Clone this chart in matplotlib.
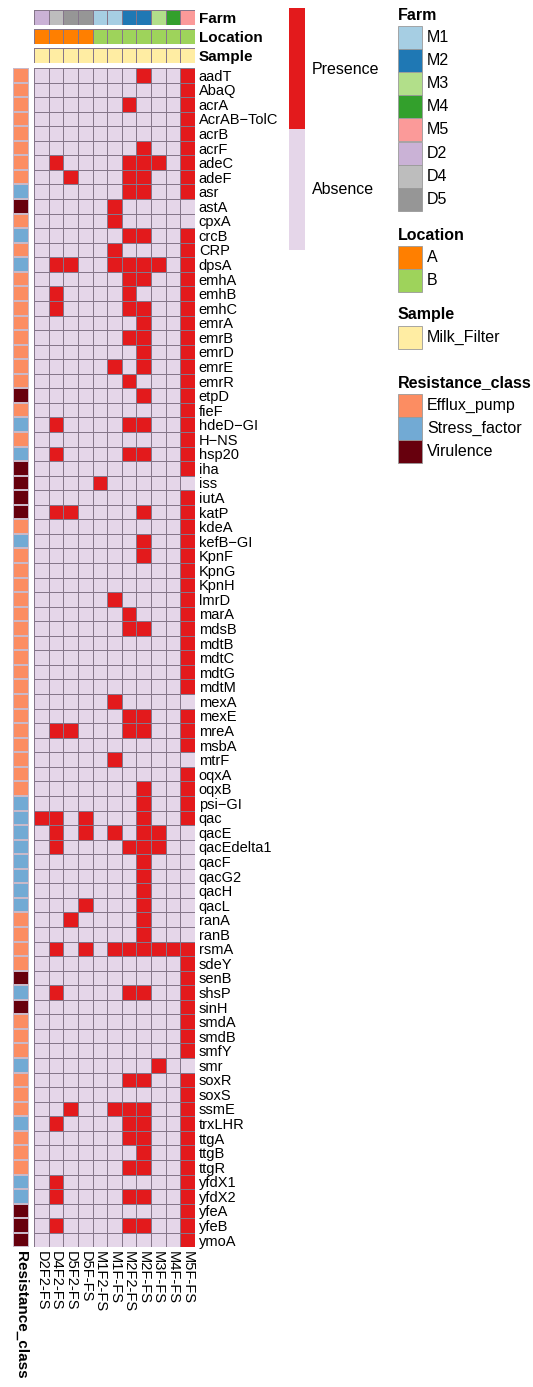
import numpy as np
import matplotlib
matplotlib.use("Agg")
import matplotlib.pyplot as plt
from matplotlib.colors import ListedColormap
from matplotlib.patches import Rectangle

plt.rcParams['font.family'] = ['Liberation Sans', 'DejaVu Sans']

# samples (columns) and their annotations
samples = ['D2F2-FS', 'D4F2-FS', 'D5F2-FS', 'D5F-FS', 'M1F2-FS', 'M1F-FS',
           'M2F2-FS', 'M2F-FS', 'M3F-FS', 'M4F-FS', 'M5F-FS']
farm = ['D2', 'D4', 'D5', 'D5', 'M1', 'M1', 'M2', 'M2', 'M3', 'M4', 'M5']
location = ['A', 'A', 'A', 'A', 'B', 'B', 'B', 'B', 'B', 'B', 'B']
sample_type = ['Milk_Filter'] * 11

farm_levels = ['M1', 'M2', 'M3', 'M4', 'M5', 'D2', 'D4', 'D5']
farm_colors = ['#A6CEE3', '#1F78B4', '#B2DF8A', '#33A02C', '#FB9A99',
               '#CAB2D6', '#BDBDBD', '#969696']
loc_levels = ['A', 'B']
loc_colors = ['#FF7F00', '#9ED35B']
sample_levels = ['Milk_Filter']
sample_colors = ['#FFEDA3']
class_levels = ['Efflux_pump', 'Stress_factor', 'Virulence']
class_colors = ['#FC8D62', '#72AAD4', '#67000D']

# genes (rows)
genes = ['aadT', 'AbaQ', 'acrA', 'AcrAB\u2212TolC', 'acrB', 'acrF', 'adeC', 'adeF', 'asr',
         'astA', 'cpxA', 'crcB', 'CRP', 'dpsA', 'emhA', 'emhB', 'emhC', 'emrA', 'emrB',
         'emrD', 'emrE', 'emrR', 'etpD', 'fieF', 'hdeD\u2212GI', 'H\u2212NS', 'hsp20', 'iha',
         'iss', 'iutA', 'katP', 'kdeA', 'kefB\u2212GI', 'KpnF', 'KpnG', 'KpnH', 'lmrD',
         'marA', 'mdsB', 'mdtB', 'mdtC', 'mdtG', 'mdtM', 'mexA', 'mexE', 'mreA', 'msbA',
         'mtrF', 'oqxA', 'oqxB', 'psi\u2212GI', 'qac', 'qacE', 'qacEdelta1', 'qacF', 'qacG2',
         'qacH', 'qacL', 'ranA', 'ranB', 'rsmA', 'sdeY', 'senB', 'shsP', 'sinH', 'smdA',
         'smdB', 'smfY', 'smr', 'soxR', 'soxS', 'ssmE', 'trxLHR', 'ttgA', 'ttgB', 'ttgR',
         'yfdX1', 'yfdX2', 'yfeA', 'yfeB', 'ymoA']

res_class = ['E', 'E', 'E', 'E', 'E', 'E', 'E', 'E', 'S',
             'V', 'E', 'S', 'E', 'S', 'E', 'E', 'E', 'E', 'E',
             'E', 'E', 'E', 'V', 'E', 'S', 'E', 'S', 'V',
             'V', 'V', 'V', 'E', 'S', 'E', 'E', 'E', 'E',
             'E', 'E', 'E', 'E', 'E', 'E', 'E', 'E', 'E', 'E',
             'E', 'E', 'E', 'S', 'S', 'S', 'S', 'S', 'S',
             'S', 'S', 'E', 'E', 'E', 'E', 'V', 'S', 'V', 'E',
             'E', 'E', 'S', 'E', 'E', 'E', 'S', 'E', 'E', 'E',
             'S', 'S', 'V', 'V', 'V']

# presence (1) / absence (0) per gene across the 11 samples
presence = ['00000001001', '00000000001', '00000010001', '00000000001', '00000000001',
            '00000001001', '01000011101', '00100011001', '00000011001',
            '00000100000', '00000100000', '00000011001', '00000100001', '01100111101',
            '00000011001', '01000010001', '01000011001', '00000001001', '00000011001',
            '00000001001', '00000101001', '00000010001', '00000001001', '00000000001',
            '01000011001', '00000000001', '01000011001', '00000000001',
            '00001000000', '00000000001', '01100001001', '00000000001', '00000001001',
            '00000001001', '00000000001', '00000000001', '00000100001',
            '00000010001', '00000011001', '00000000001', '00000000001', '00000000001',
            '00000000001', '00000100000', '00000011001', '01100011001', '00000000001',
            '00000100000', '00000000001', '00000001001', '00000001001', '11010001001',
            '01010101100', '01000011100', '00000001000', '00000001000',
            '00000001000', '00010001000', '00100001000', '00000001000', '01010111111',
            '00000000001', '00000000001', '01000011001', '00000000001', '00000000001',
            '00000000001', '00000000001', '00000000100', '00000011001', '00000000001',
            '00100111001', '01000011001', '00000011001', '00000001001', '00000011001',
            '01000000001', '01000011001', '00000000001', '01000011001', '00000000001']

absent_col = '#E5D6E9'
present_col = '#E31A1C'
grid_col = '#85768A'

W, H = 533, 1387
fig = plt.figure(figsize=(W / 100, H / 100), dpi=100)


def px_axes(x0, y0, x1, y1):
    return fig.add_axes([x0 / W, 1 - y1 / H, (x1 - x0) / W, (y1 - y0) / H])


# overlay for the legends, in pixel units
lax = fig.add_axes([0, 0, 1, 1])
lax.set_xlim(0, W)
lax.set_ylim(H, 0)
lax.axis('off')

mat = np.array([[int(c) for c in row] for row in presence])
n_rows, n_cols = mat.shape

# main heatmap
ax = px_axes(34.3, 68, 194.7, 1247.3)
ax.pcolormesh(mat, cmap=ListedColormap([absent_col, present_col]), vmin=0, vmax=1,
              edgecolors=grid_col, linewidth=0.7)
ax.set_xlim(0, n_cols)
ax.set_ylim(n_rows, 0)
ax.set_frame_on(False)
ax.yaxis.tick_right()
ax.set_yticks(np.arange(n_rows) + 0.5)
ax.set_yticklabels(genes, fontsize=10.5)
ax.set_xticks(np.arange(n_cols) + 0.5)
ax.set_xticklabels(samples, rotation=-90, fontsize=10.5, va='top', ha='center')
ax.tick_params(length=0, pad=3)

# column annotations
annos = [('Farm', farm, farm_levels, farm_colors, 10, 25),
         ('Location', location, loc_levels, loc_colors, 29, 44),
         ('Sample', sample_type, sample_levels, sample_colors, 48, 63)]
for name, vals, levels, colors, y0, y1 in annos:
    aax = px_axes(34.3, y0, 194.7, y1)
    codes = np.array([[levels.index(v) for v in vals]])
    aax.pcolormesh(codes, cmap=ListedColormap(colors), vmin=-0.5, vmax=len(levels) - 0.5,
                   edgecolors=grid_col, linewidth=0.7)
    aax.set_xlim(0, n_cols)
    aax.set_ylim(1, 0)
    aax.set_frame_on(False)
    aax.set_xticks([])
    aax.yaxis.tick_right()
    aax.set_yticks([0.5])
    aax.set_yticklabels([name], fontsize=11, fontweight='bold')
    aax.tick_params(length=0, pad=3)

# row annotation: resistance class
class_map = {'E': 0, 'S': 1, 'V': 2}
rc = np.array([[class_map[c]] for c in res_class])
rax = px_axes(13.3, 68, 28.7, 1247.3)
rax.pcolormesh(rc, cmap=ListedColormap(class_colors), vmin=-0.5, vmax=2.5,
               edgecolors='#C9B9C9', linewidth=0.3)
rax.set_xlim(0, 1)
rax.set_ylim(n_rows, 0)
rax.set_frame_on(False)
rax.set_yticks([])
rax.set_xticks([0.5])
rax.set_xticklabels(['Resistance_class'], rotation=-90, fontsize=11,
                    fontweight='bold', va='top')
rax.tick_params(length=0, pad=3)

# presence / absence key
lax.add_patch(Rectangle((289, 8), 16, 121, facecolor=present_col, edgecolor='none'))
lax.add_patch(Rectangle((289, 129), 16, 121, facecolor=absent_col, edgecolor='none'))
lax.text(312, 69, 'Presence', fontsize=11.5, va='center', ha='left')
lax.text(312, 190, 'Absence', fontsize=11.5, va='center', ha='left')

# categorical legends
box_w, box_h = 24, 23.2
groups = [('Farm', farm_levels, farm_colors, 15),
          ('Location', loc_levels, loc_colors, 235),
          ('Sample', sample_levels, sample_colors, 315),
          ('Resistance_class', class_levels, class_colors, 383)]
for title, levels, colors, ty in groups:
    lax.text(398, ty, title, fontsize=11.5, fontweight='bold', va='center', ha='left')
    top = ty + 10.5
    for i, (lab, c) in enumerate(zip(levels, colors)):
        y = top + i * box_h
        lax.add_patch(Rectangle((398, y), box_w, box_h, facecolor=c,
                                edgecolor='#9A9A9A', linewidth=0.6))
        lax.text(427, y + box_h / 2, lab, fontsize=11.5, va='center', ha='left')

fig.savefig('out.png', dpi=100)
